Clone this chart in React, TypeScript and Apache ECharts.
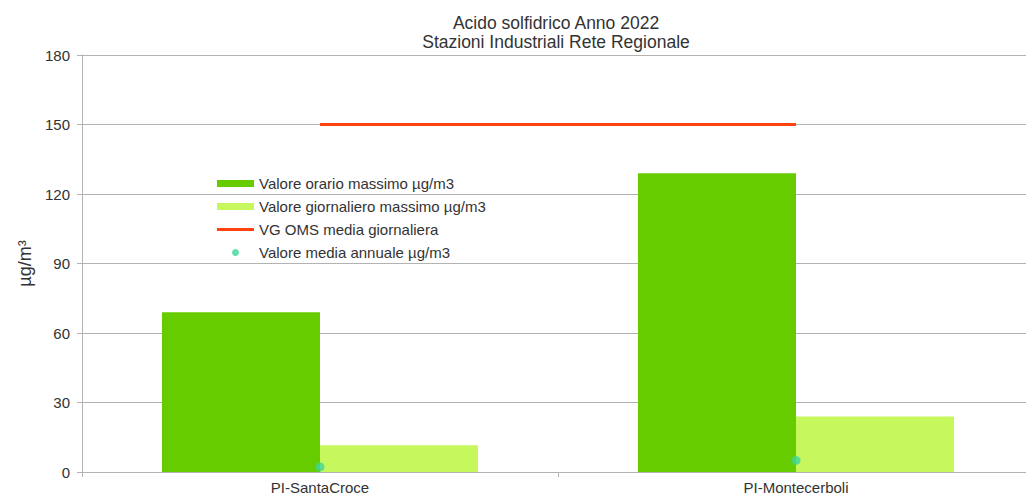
import React, { useEffect, useRef } from "react";
import * as echarts from "echarts";

const categories = ["PI-SantaCroce", "PI-Montecerboli"];
const orarioMax = [69, 129];
const giornalieroMax = [11.5, 24];
const vgOms = [150, 150];
const mediaAnnuale = [2.2, 5];
const yTicks = [0, 30, 60, 90, 120, 150, 180];

export default function App() {
  const ref = useRef<HTMLDivElement>(null);
  useEffect(() => {
    document.body.style.overflow = "hidden";
    const chart = echarts.init(ref.current!, null, { renderer: "svg" });
    const font = "Liberation Sans";
    chart.setOption({
      animation: false,
      backgroundColor: "#ffffff",
      title: {
        text: "Acido solfidrico Anno 2022\nStazioni Industriali Rete Regionale",
        left: 551,
        textAlign: "center",
        top: 8,
        textStyle: { fontFamily: font, fontSize: 17.5, fontWeight: "normal", color: "#333", lineHeight: 19 },
      },
      legend: {
        orient: "vertical",
        left: 212,
        top: 171,
        itemGap: 8,
        itemWidth: 37,
        itemHeight: 7,
        textStyle: { fontFamily: font, fontSize: 15, color: "#333" },
        data: [
          { name: "Valore orario massimo µg/m3", icon: "rect" },
          { name: "Valore giornaliero massimo µg/m3", icon: "rect" },
          {
            name: "VG OMS media giornaliera",
            icon: "path://M0,0L0.01,0L0.01,0.01ZM0,2H37V5H0ZM37,7L36.99,7L36.99,6.99Z",
            itemStyle: { color: "#ff420e" },
          },
          { name: "Valore media annuale µg/m3", icon: "circle" },
        ],
      },
      grid: { left: 82, width: 952, top: 55, bottom: 25 },
      xAxis: {
        type: "category",
        data: categories,
        axisLine: { lineStyle: { color: "#b3b3b3" } },
        axisTick: { show: true, length: 5, lineStyle: { color: "#b3b3b3" } },
        axisLabel: { fontFamily: font, fontSize: 15, color: "#333", margin: 8 },
      },
      yAxis: {
        type: "value",
        min: yTicks[0],
        max: yTicks[yTicks.length - 1],
        interval: 30,
        name: "µg/m³",
        nameLocation: "middle",
        nameGap: 43,
        nameTextStyle: { fontFamily: font, fontSize: 18, color: "#333" },
        axisLine: { show: true, lineStyle: { color: "#b3b3b3" } },
        axisTick: { show: true, length: 5, lineStyle: { color: "#b3b3b3" } },
        axisLabel: { fontFamily: font, fontSize: 15, color: "#333", margin: 12 },
        splitLine: { lineStyle: { color: "#b3b3b3" } },
      },
      series: [
        {
          name: "Valore orario massimo µg/m3",
          type: "bar",
          data: orarioMax,
          barGap: "0%",
          barCategoryGap: "33.6%",
          itemStyle: { color: "#66cc00" },
        },
        {
          name: "Valore giornaliero massimo µg/m3",
          type: "bar",
          data: giornalieroMax,
          itemStyle: { color: "#c6f85e" },
        },
        {
          name: "VG OMS media giornaliera",
          type: "line",
          data: vgOms,
          symbol: "none",
          lineStyle: { color: "#ff420e", width: 3 },
          itemStyle: { color: "#ff420e" },
        },
        {
          name: "Valore media annuale µg/m3",
          type: "scatter",
          data: mediaAnnuale,
          symbolSize: 9,
          itemStyle: { color: "#3fd49a" },
        },
      ],
    });
    return () => chart.dispose();
  }, []);
  return <div ref={ref} style={{ width: 1044, height: 497, position: "absolute", left: 0, top: 0 }} />;
}
